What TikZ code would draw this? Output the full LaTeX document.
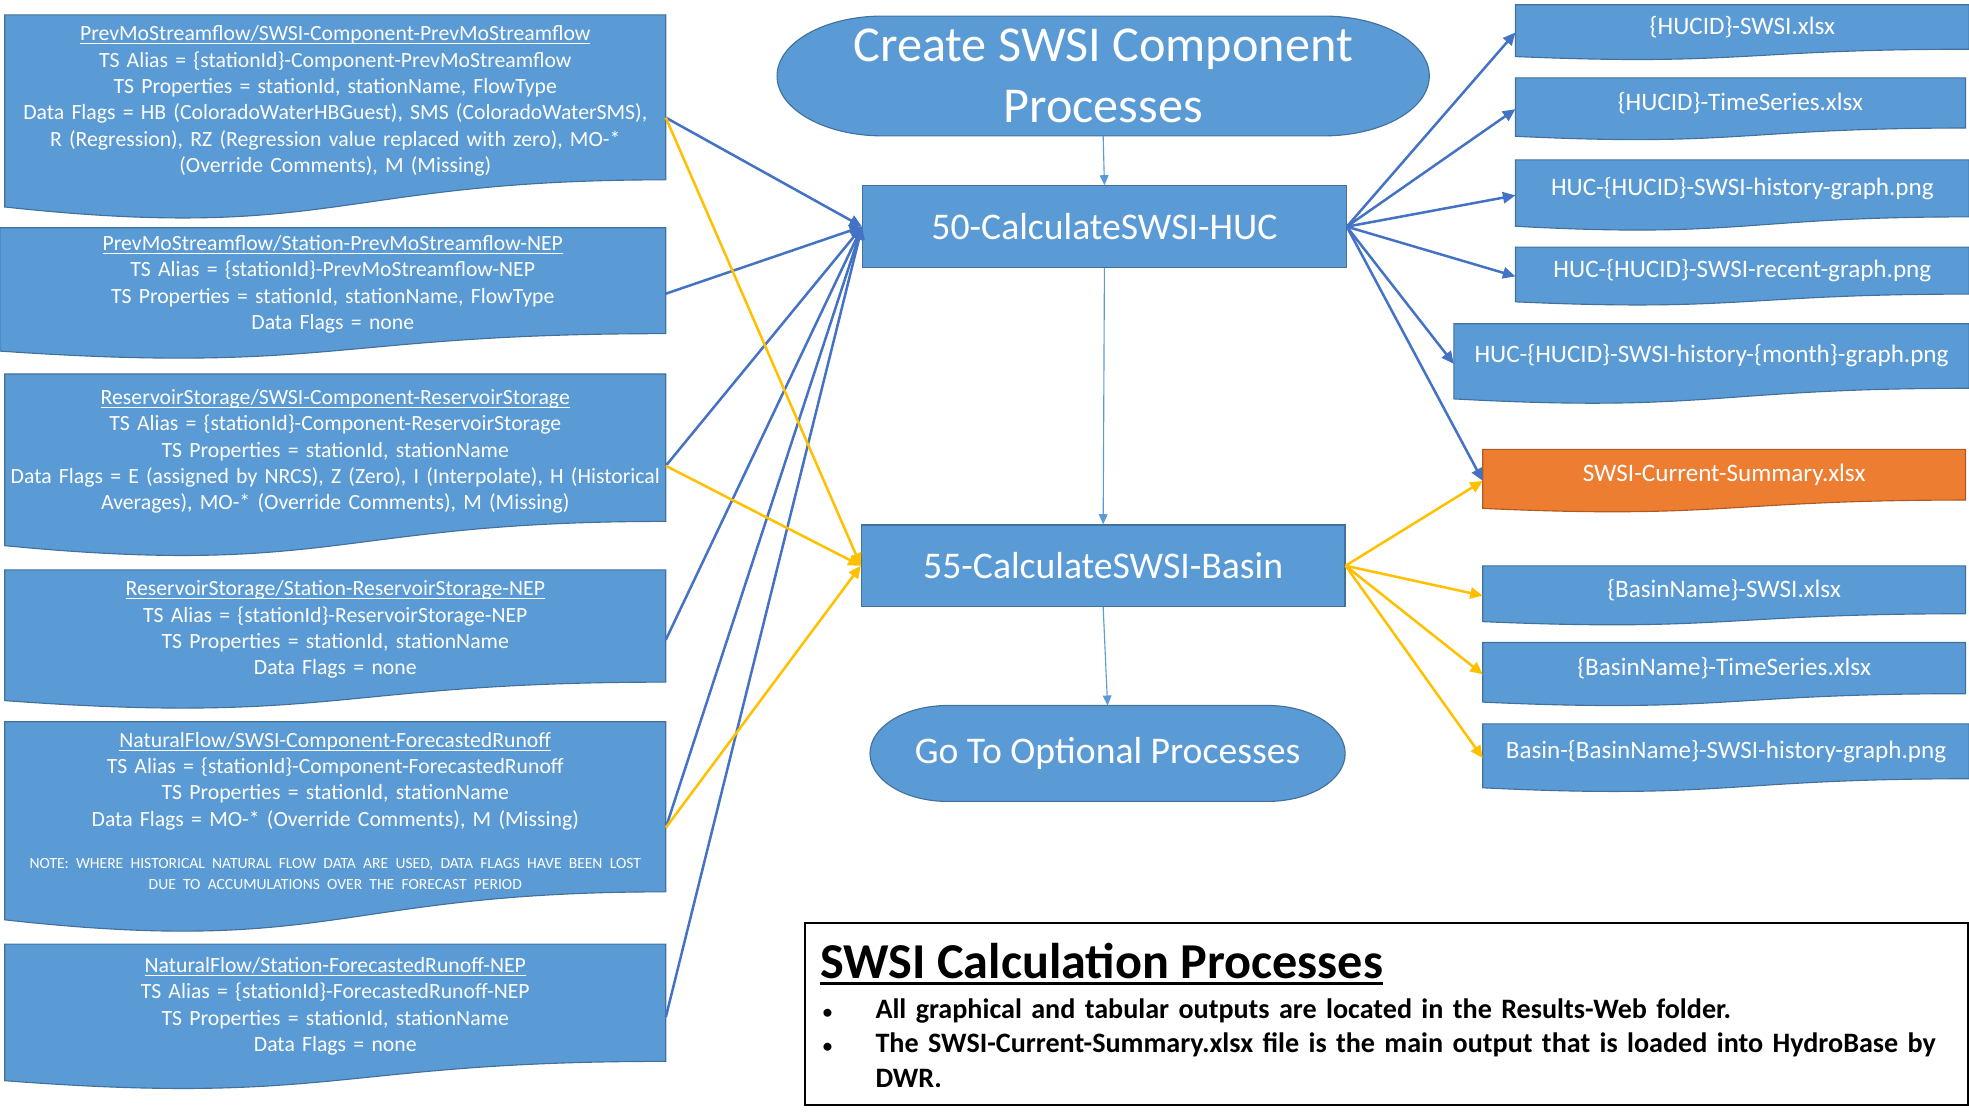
\documentclass[tikz,border=0pt]{standalone}
\usepackage{fontspec}
\setmainfont{Carlito}
\usetikzlibrary{arrows.meta,calc,backgrounds}
\frenchspacing

\definecolor{boxblue}{HTML}{5B9BD5}
\definecolor{boxedge}{HTML}{41719C}
\definecolor{outorange}{HTML}{ED7D31}
\definecolor{outedge}{HTML}{AE5A21}
\definecolor{linkblue}{HTML}{4472C4}
\definecolor{linkgold}{HTML}{FFC000}

% underlined text: #1 rule thickness, #2 rule bottom below the baseline, #3 text
\newcommand\undertext[3][0.8pt]{\leavevmode\setbox0\hbox{#3}%
  \rlap{\rule[-#2]{\wd0}{#1}}\box0}
% first (underlined) line of a time-series box, with extra room above it
\newcommand\boxtitle[1]{\rule{0pt}{18pt}\undertext{2.8pt}{#1}}

% fill and outline of a flowchart "document" node: flat top, wavy bottom
\newcommand\docshape[2][docfill]{%
  \begin{scope}[on background layer]
    \path[#1] let \p1=(#2.north west), \p2=(#2.south east), \n1={\y1-\y2} in
      (\x1,\y1) -- (\x2,\y1) -- (\x2,\y2)
      .. controls ({0.5*\x1+0.5*\x2},\y2) and ({0.5*\x1+0.5*\x2},{\y2-0.381*\n1}) ..
      (\x1,{\y2-0.1646*\n1}) -- cycle;
  \end{scope}}

% fill and outline of a flowchart terminator with elliptic ends
\newcommand\termshape[2]{%
  \begin{scope}[on background layer]
    \path[docfill] let \p1=(#1.north west), \p2=(#1.south east), \n1={0.5*\y1-0.5*\y2} in
      ({\x1+#2pt},\y1) -- ({\x2-#2pt},\y1)
      arc[start angle=90, end angle=-90, x radius=#2pt, y radius=\n1]
      -- ({\x1+#2pt},\y2)
      arc[start angle=270, end angle=90, x radius=#2pt, y radius=\n1] -- cycle;
  \end{scope}}

\tikzset{
  docfill/.style={fill=boxblue, draw=boxedge, line width=0.9pt},
  docorange/.style={fill=outorange, draw=outedge, line width=0.9pt},
  srcbox/.style={inner sep=0pt, text=white, align=center, text width=524pt,
    font=\fontsize{17.3}{21}\selectfont},
  outbox/.style={inner sep=0pt, text=white, font=\fontsize{20}{24}\selectfont},
  procbox/.style={rectangle, fill=boxblue, draw=boxedge, line width=1pt,
    inner sep=0pt, text=white, font=\fontsize{30}{36}\selectfont},
  termnode/.style={inner sep=0pt, text=white, align=center},
  hucflow/.style={draw=linkblue, line width=2pt, -{Triangle[length=10pt,width=9pt]}},
  basinflow/.style={draw=linkgold, line width=2pt, -{Triangle[length=10pt,width=9pt]}},
  stepflow/.style={draw=boxblue, line width=0.9pt, -{Triangle[length=8pt,width=7pt]}},
}

\begin{document}
\begin{tikzpicture}[x=1pt, y=-1pt]
\useasboundingbox (0,0) rectangle (1568,887);

% ---- input time series (left column) ----
\node[srcbox, minimum width=526pt, minimum height=131pt] (b1) at (267,77.5) {%
  \boxtitle{PrevMoStreamflow/SWSI-Component-PrevMoStreamflow}\\
  TS Alias = \{stationId\}-Component-PrevMoStreamflow\\
  TS Properties = stationId, stationName, FlowType\\
  Data Flags = HB (ColoradoWaterHBGuest), SMS (ColoradoWaterSMS),\\
  R (Regression), RZ (Regression value replaced with zero), MO-*\\
  (Override Comments), M (Missing)};
\node[srcbox, minimum width=530pt, minimum height=83pt] (b2) at (265,223.5) {%
  \boxtitle{PrevMoStreamflow/Station-PrevMoStreamflow-NEP}\\
  TS Alias = \{stationId\}-PrevMoStreamflow-NEP\\
  TS Properties = stationId, stationName, FlowType\\
  Data Flags = none};
\node[srcbox, minimum width=526pt, minimum height=117pt] (b3) at (267,356.5) {%
  \boxtitle{ReservoirStorage/SWSI-Component-ReservoirStorage}\\
  TS Alias = \{stationId\}-Component-ReservoirStorage\\
  TS Properties = stationId, stationName\\
  Data Flags = E (assigned by NRCS), Z (Zero), I (Interpolate), H (Historical\\
  Averages), MO-* (Override Comments), M (Missing)};
\node[srcbox, minimum width=526pt, minimum height=89pt] (b4) at (267,498.5) {%
  \boxtitle{ReservoirStorage/Station-ReservoirStorage-NEP}\\
  TS Alias = \{stationId\}-ReservoirStorage-NEP\\
  TS Properties = stationId, stationName\\
  Data Flags = none};
\node[srcbox, minimum width=526pt, minimum height=135pt] (b5) at (267,642.5) {%
  \boxtitle{NaturalFlow/SWSI-Component-ForecastedRunoff}\\
  TS Alias = \{stationId\}-Component-ForecastedRunoff\\
  TS Properties = stationId, stationName\\
  Data Flags = MO-* (Override Comments), M (Missing)\par
  \vspace{18pt}
  {\fontsize{12.4}{16}\selectfont NOTE: WHERE HISTORICAL NATURAL FLOW DATA ARE USED, DATA FLAGS HAVE BEEN LOST\\
  DUE TO ACCUMULATIONS OVER THE FORECAST PERIOD\par}};
\node[srcbox, minimum width=526pt, minimum height=93pt] (b6) at (267,798.5) {%
  \boxtitle{NaturalFlow/Station-ForecastedRunoff-NEP}\\
  TS Alias = \{stationId\}-ForecastedRunoff-NEP\\
  TS Properties = stationId, stationName\\
  Data Flags = none};

% ---- processes (middle column) ----
\node[termnode, minimum width=519pt, minimum height=95pt,
      font=\fontsize{40}{48}\selectfont] (create) at (878.5,60.5)
  {Create SWSI Component\\Processes};
\node[procbox, minimum width=385pt, minimum height=65pt] (huc) at (879.5,180.5)
  {50-CalculateSWSI-HUC};
\node[procbox, minimum width=385pt, minimum height=65pt] (basin) at (878.5,450.5)
  {55-CalculateSWSI-Basin};
\node[termnode, minimum width=378pt, minimum height=76pt,
      font=\fontsize{30}{36}\selectfont] (optional) at (882,600)
  {Go To Optional Processes};

% ---- output files (right column) ----
\node[outbox, minimum width=361pt, minimum height=35pt] (r1) at (1387.5,21.5) {\{HUCID\}-SWSI.xlsx};
\node[outbox, minimum width=358pt, minimum height=39.5pt] (r2) at (1386,82) {\{HUCID\}-TimeSeries.xlsx};
\node[outbox, minimum width=361pt, minimum height=45pt] (r3) at (1387.5,150) {HUC-\{HUCID\}-SWSI-history-graph.png};
\node[outbox, minimum width=361pt, minimum height=37pt] (r4) at (1387.5,215.5) {HUC-\{HUCID\}-SWSI-recent-graph.png};
\node[outbox, minimum width=410pt, minimum height=51pt] (r5) at (1363,283.5) {HUC-\{HUCID\}-SWSI-history-\{month\}-graph.png};
\node[outbox, minimum width=384pt, minimum height=40pt] (r6) at (1373,378) {SWSI-Current-Summary.xlsx};
\node[outbox, minimum width=384pt, minimum height=37.7pt] (r7) at (1373,469.7) {\{BasinName\}-SWSI.xlsx};
\node[outbox, minimum width=384pt, minimum height=40.4pt] (r8) at (1373,532) {\{BasinName\}-TimeSeries.xlsx};
\node[outbox, minimum width=387pt, minimum height=43.3pt] (r9) at (1374.5,598.3) {Basin-\{BasinName\}-SWSI-history-graph.png};

% ---- shapes behind the texts ----
\docshape{b1}\docshape{b2}\docshape{b3}\docshape{b4}\docshape{b5}\docshape{b6}
\docshape{r1}\docshape{r2}\docshape{r3}\docshape{r4}\docshape{r5}
\docshape[docorange]{r6}
\docshape{r7}\docshape{r8}\docshape{r9}
\termshape{create}{84}
\termshape{optional}{62}

% ---- process sequence ----
\draw[stepflow] (create.south) -- (huc.north);
\draw[stepflow] (huc.south) -- (basin.north);
\draw[stepflow] (basin.south) -- (optional.north);

% ---- inputs to the HUC step ----
\foreach \b in {b1,b2,b3,b4,b5,b6}
  \draw[hucflow] ($(\b.north east)!0.623!(\b.south east)$) -- (huc.west);

% ---- HUC outputs ----
\foreach \r in {r1,r2,r3,r4,r5,r6}
  \draw[hucflow] (huc.east) -- ($(\r.north west)!0.623!(\r.south west)$);

% ---- inputs to the basin step ----
\foreach \b in {b1,b3,b5}
  \draw[basinflow] ($(\b.north east)!0.623!(\b.south east)$) -- (basin.west);

% ---- basin outputs ----
\foreach \r in {r6,r7,r8,r9}
  \draw[basinflow] (basin.east) -- ($(\r.north west)!0.623!(\r.south west)$);

% ---- notes ----
\node[draw=black, line width=1.6pt, minimum width=926pt, minimum height=145pt,
      inner sep=0pt] (legend) at (1104,807.5) {};
\node[anchor=base west, inner sep=0pt, font=\fontsize{40}{44}\selectfont\bfseries]
  (legtitle) at (653,779)
  {\undertext[2.6pt]{5.6pt}{SWSI Calculation Processes}};
\node[anchor=north west, inner sep=0pt, text width=905pt, align=left,
      font=\fontsize{22.4}{27.5}\selectfont\bfseries] (legitems) at (653,795)
  {\makebox[44pt][l]{\hspace*{2pt}{\fontsize{15}{15}\selectfont •}}All graphical and tabular outputs are located in the Results-Web folder.\\
   \makebox[44pt][l]{\hspace*{2pt}{\fontsize{15}{15}\selectfont •}}The SWSI-Current-Summary.xlsx file is the main output that is loaded into HydroBase by\\
   \hspace*{44pt}DWR.};
\end{tikzpicture}
\end{document}
